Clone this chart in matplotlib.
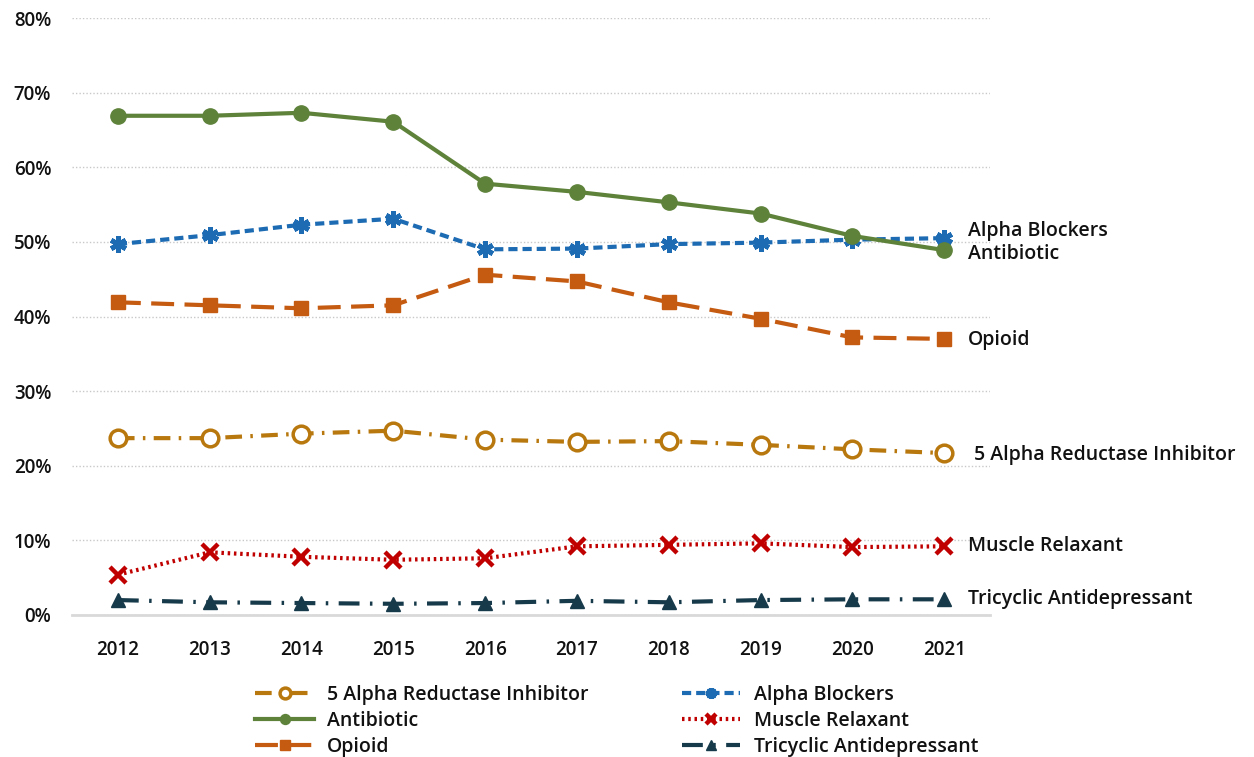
import matplotlib.pyplot as plt
from matplotlib.ticker import PercentFormatter

plt.rcParams['font.family'] = ['Open Sans', 'DejaVu Sans']

years = [2012, 2013, 2014, 2015, 2016, 2017, 2018, 2019, 2020, 2021]

five_ari = [23.7, 23.7, 24.3, 24.7, 23.5, 23.2, 23.3, 22.8, 22.2, 21.7]
alpha_blockers = [49.7, 50.9, 52.3, 53.1, 49.0, 49.1, 49.7, 49.9, 50.3, 50.5]
antibiotic = [66.9, 66.9, 67.3, 66.1, 57.8, 56.7, 55.3, 53.8, 50.8, 48.9]
muscle_relaxant = [5.4, 8.4, 7.8, 7.4, 7.6, 9.2, 9.4, 9.6, 9.1, 9.2]
opioid = [41.9, 41.5, 41.1, 41.5, 45.6, 44.7, 41.9, 39.7, 37.2, 37.0]
tricyclic = [2.0, 1.7, 1.6, 1.5, 1.6, 1.9, 1.7, 2.0, 2.1, 2.1]

fig = plt.figure(figsize=(12.54, 7.57), dpi=100)
ax = fig.add_axes([0.0574, 0.1876, 0.7321, 0.7886])

# name, values, color, line style, marker, label offset (px up), label x offset
series = [
    ('5 Alpha Reductase Inhibitor', five_ari, '#B8780E', (0, (4, 2, 0.6, 2)), 'o', -2, 30),
    ('Alpha Blockers', alpha_blockers, '#1C6BB3', (0, (2.2, 1.2)), (6, 2, 0), 7, 24),
    ('Antibiotic', antibiotic, '#5E823A', '-', 'o', -4, 24),
    ('Muscle Relaxant', muscle_relaxant, '#C00000', (0, (0.6, 0.9)), 'x', 0, 24),
    ('Opioid', opioid, '#C55A11', (0, (5.5, 2.5)), 's', -1, 24),
    ('Tricyclic Antidepressant', tricyclic, '#173A4A', (0, (5, 2.5, 0.6, 2.5)), '^', 0, 24),
]

handles = {}
for name, vals, color, ls, mk, dy, dx in series:
    kw = dict(color=color, linestyle=ls, linewidth=3, marker=mk, label=name)
    if name.startswith('5 Alpha'):
        kw.update(markersize=12, markerfacecolor='white', markeredgewidth=2.5)
    elif mk == 'x':
        kw.update(markersize=11, markeredgewidth=3.2)
    elif mk == 'o':
        kw.update(markersize=11)
    elif mk == 's':
        kw.update(markersize=10.5)
    elif mk == '^':
        kw.update(markersize=10)
    else:
        kw.update(markersize=12, markeredgewidth=3.5)
    line, = ax.plot(years, [v / 100 for v in vals], **kw)
    handles[name] = line
    ax.annotate(name, (years[-1], vals[-1] / 100), xytext=(dx, dy),
                textcoords='offset pixels', va='center', ha='left',
                fontsize=14, fontweight='semibold', color='#111111',
                annotation_clip=False)

ax.set_xlim(2011.5, 2021.5)
ax.set_ylim(0, 0.8)
ax.set_xticks(years)
ax.set_yticks([i / 10 for i in range(9)])
ax.yaxis.set_major_formatter(PercentFormatter(1.0, decimals=0))

ax.grid(axis='y', color='#C8C8C8', linestyle=(0, (1, 1.5)), linewidth=1)
ax.set_axisbelow(True)
for s in ['top', 'right', 'left']:
    ax.spines[s].set_visible(False)
ax.spines['bottom'].set_color('#D9D9D9')
ax.spines['bottom'].set_linewidth(2)
ax.tick_params(axis='both', length=0, labelsize=13.5)
ax.tick_params(axis='y', pad=15)
ax.tick_params(axis='x', pad=18)
for lbl in ax.get_xticklabels() + ax.get_yticklabels():
    lbl.set_fontweight('semibold')
    lbl.set_color('#111111')

# legend fills column by column
order = ['5 Alpha Reductase Inhibitor', 'Antibiotic', 'Opioid',
         'Alpha Blockers', 'Muscle Relaxant', 'Tricyclic Antidepressant']
leg = fig.legend([handles[n] for n in order], order,
                 loc='upper center', bbox_to_anchor=(0.492, 0.118), ncol=2,
                 frameon=False, fontsize=14, handlelength=3.0,
                 columnspacing=4.8, labelspacing=0.3, handletextpad=0.7)
for t in leg.get_texts():
    t.set_fontweight('semibold')
    t.set_color('#111111')
for h in leg.legend_handles:
    h.set_markersize(h.get_markersize() * 0.65)

fig.savefig('out.png', dpi=100)
